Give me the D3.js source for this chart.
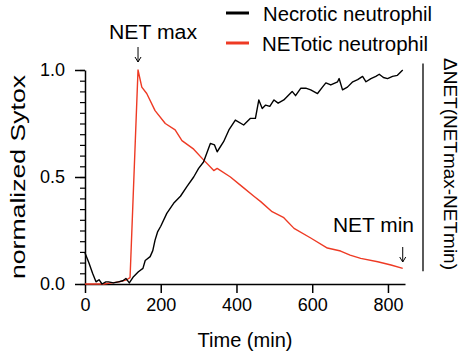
<!DOCTYPE html>
<html>
<head>
<meta charset="utf-8">
<script src="https://cdn.jsdelivr.net/npm/d3@7"></script>
<style>
  body { margin: 0; background: #fff; }
  text { font-family: "Liberation Sans", Arial, sans-serif; fill: #000; }
</style>
</head>
<body>
<div id="chart"></div>
<script>
// necrotic neutrophil (black)
const necroticTime = [0, 10, 20, 29, 37, 45, 55, 62, 75, 88, 100, 108, 117, 128, 141, 153, 159, 172, 179, 185, 192, 200, 216, 234, 252, 269, 287, 300, 313, 331, 342, 349, 366, 380, 397, 419, 437, 450, 459, 468, 477, 488, 499, 510, 525, 547, 556, 570, 583, 596, 614, 627, 636, 649, 667, 671, 680, 693, 707, 720, 733, 742, 755, 768, 777, 788, 799, 812, 825, 839];
const necroticValue = [0.145, 0.10, 0.05, 0.01, 0.02, 0.0, 0.01, 0.01, 0.005, 0.01, 0.015, 0.026, 0.005, 0.034, 0.057, 0.073, 0.11, 0.128, 0.156, 0.205, 0.245, 0.27, 0.33, 0.377, 0.41, 0.455, 0.50, 0.54, 0.57, 0.657, 0.65, 0.618, 0.665, 0.72, 0.766, 0.743, 0.774, 0.774, 0.86, 0.82, 0.836, 0.83, 0.86, 0.845, 0.86, 0.90, 0.88, 0.915, 0.915, 0.907, 0.89, 0.92, 0.94, 0.93, 0.945, 0.96, 0.907, 0.92, 0.945, 0.955, 0.97, 0.945, 0.96, 0.97, 0.98, 0.965, 0.96, 0.97, 0.975, 1.0];

// NETotic neutrophil (red)
const netoticTime = [0, 30, 50, 70, 90, 110, 119, 140, 150, 163, 185, 212, 238, 256, 287, 313, 340, 349, 384, 415, 446, 464, 494, 525, 552, 596, 640, 675, 700, 728, 773, 808, 839];
const netoticValue = [0, 0, 0, 0.005, 0.01, 0.02, 0.03, 1.0, 0.92, 0.89, 0.81, 0.75, 0.72, 0.67, 0.63, 0.58, 0.53, 0.54, 0.50, 0.455, 0.41, 0.385, 0.338, 0.31, 0.26, 0.215, 0.168, 0.154, 0.135, 0.12, 0.104, 0.089, 0.073];

const xTicks = [0, 200, 400, 600, 800];
const yTicks = [0, 0.5, 1.0];
const seriesNames = ["Necrotic neutrophil", "NETotic neutrophil"];
const seriesColors = ["#000000", "#ee3a24"];

const width = 462, height = 356;
const margin = {top: 70, right: 57, bottom: 72, left: 85};

const svg = d3.select("#chart")
    .append("svg")
    .attr("width", width)
    .attr("height", height);

const x = d3.scaleLinear()
    .domain([0, 845])
    .range([margin.left, width - margin.right]);

const y = d3.scaleLinear()
    .domain([0, 1])
    .range([height - margin.bottom, margin.top]);

// x axis
const xAxis = svg.append("g")
    .attr("transform", `translate(0,${y(0)})`)
    .call(d3.axisBottom(x).tickValues(xTicks).tickFormat(d3.format("d")).tickSize(9).tickPadding(5).tickSizeOuter(0));
xAxis.select(".domain").attr("stroke-width", 1.5);
xAxis.selectAll(".tick line").attr("stroke-width", 1.5);
xAxis.selectAll(".tick text").attr("font-size", 18).attr("font-family", "Liberation Sans, Arial, sans-serif");

// y axis minor ticks
svg.append("g")
    .attr("transform", `translate(${x(0)},0)`)
    .call(d3.axisLeft(y).tickValues(d3.range(0, 21).map(i => i / 20)).tickSize(5).tickFormat("").tickSizeOuter(0))
    .call(g => g.select(".domain").remove())
    .selectAll(".tick line").attr("stroke-width", 1.2);

// y axis major
const yAxis = svg.append("g")
    .attr("transform", `translate(${x(0)},0)`)
    .call(d3.axisLeft(y).tickValues(yTicks).tickFormat(d3.format(".1f")).tickSize(10).tickPadding(10).tickSizeOuter(0));
yAxis.select(".domain").attr("stroke-width", 1.5);
yAxis.selectAll(".tick line").attr("stroke-width", 1.5);
yAxis.selectAll(".tick text").attr("font-size", 18).attr("font-family", "Liberation Sans, Arial, sans-serif");

// axis titles
svg.append("text")
    .attr("x", (x(0) + x(845)) / 2)
    .attr("y", 347)
    .attr("text-anchor", "middle")
    .attr("font-size", 20)
    .attr("textLength", 95)
    .attr("lengthAdjust", "spacingAndGlyphs")
    .text("Time (min)");

svg.append("text")
    .attr("transform", "translate(25,177) rotate(-90)")
    .attr("text-anchor", "middle")
    .attr("font-size", 19.5)
    .attr("textLength", 204)
    .attr("lengthAdjust", "spacingAndGlyphs")
    .text("normalized Sytox");

// lines
const line = d3.line()
    .x(d => x(d[0]))
    .y(d => y(d[1]));

svg.append("path")
    .datum(d3.zip(netoticTime, netoticValue))
    .attr("fill", "none")
    .attr("stroke", seriesColors[1])
    .attr("stroke-width", 1.4)
    .attr("stroke-linejoin", "round")
    .attr("d", line);

svg.append("path")
    .datum(d3.zip(necroticTime, necroticValue))
    .attr("fill", "none")
    .attr("stroke", seriesColors[0])
    .attr("stroke-width", 1.4)
    .attr("stroke-linejoin", "round")
    .attr("d", line);

// arrows for NET max / NET min
function arrow(px, y1, y2) {
    svg.append("line")
        .attr("x1", px).attr("x2", px)
        .attr("y1", y1).attr("y2", y2)
        .attr("stroke", "#000").attr("stroke-width", 1);
    svg.append("path")
        .attr("d", `M${px - 3},${y2 - 5}L${px},${y2}L${px + 3},${y2 - 5}`)
        .attr("fill", "none").attr("stroke", "#000").attr("stroke-width", 1);
}

const tMax = netoticTime[netoticValue.indexOf(d3.max(netoticValue))];
const tEnd = netoticTime[netoticTime.length - 1];

arrow(x(tMax), 47, 62);
svg.append("text")
    .attr("x", 109)
    .attr("y", 39)
    .attr("font-size", 20)
    .attr("textLength", 88)
    .attr("lengthAdjust", "spacingAndGlyphs")
    .text("NET max");

arrow(x(tEnd), 247, 262);
svg.append("text")
    .attr("x", 333)
    .attr("y", 232)
    .attr("font-size", 20)
    .attr("textLength", 81)
    .attr("lengthAdjust", "spacingAndGlyphs")
    .text("NET min");

// delta bracket on the right
svg.append("line")
    .attr("x1", 423).attr("x2", 423)
    .attr("y1", y(1.03)).attr("y2", y(0.06))
    .attr("stroke", "#000").attr("stroke-width", 1.3);

svg.append("text")
    .attr("transform", "translate(444,164) rotate(90)")
    .attr("text-anchor", "middle")
    .attr("font-size", 19)
    .attr("textLength", 212)
    .attr("lengthAdjust", "spacingAndGlyphs")
    .text("\u0394NET(NETmax-NETmin)");

// legend
const legendWidths = [169, 166];
const legend = svg.append("g");
seriesNames.forEach((name, i) => {
    const ly = 13 + i * 30;
    legend.append("line")
        .attr("x1", 226).attr("x2", 249)
        .attr("y1", ly).attr("y2", ly)
        .attr("stroke", seriesColors[i])
        .attr("stroke-width", 3);
    legend.append("text")
        .attr("x", 263 - i)
        .attr("y", ly + 8)
        .attr("font-size", 20)
        .attr("textLength", legendWidths[i])
        .attr("lengthAdjust", "spacingAndGlyphs")
        .text(name);
});
</script>
</body>
</html>
